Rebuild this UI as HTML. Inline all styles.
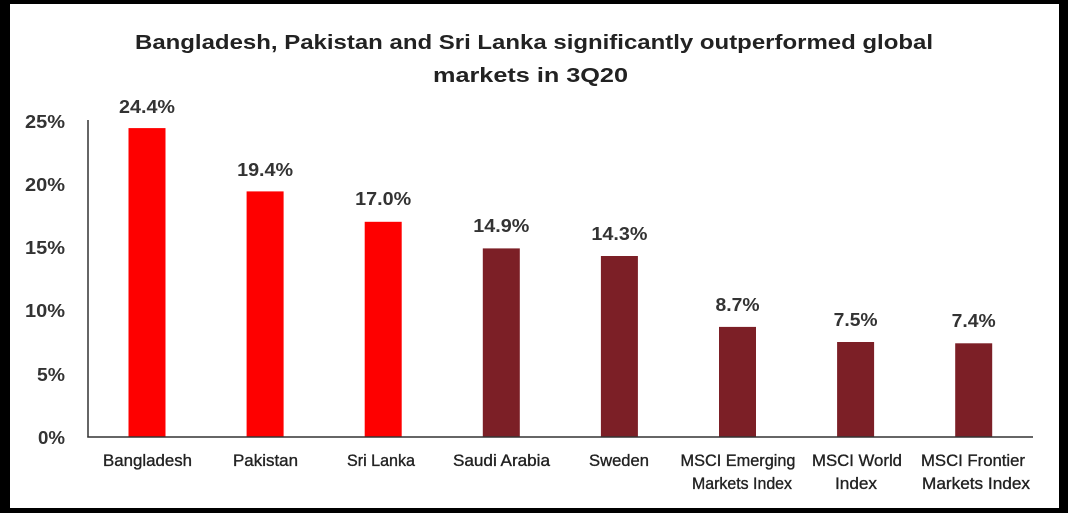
<!DOCTYPE html>
<html>
<head>
<meta charset="utf-8">
<style>
  html,body{margin:0;padding:0;background:#000;}
  body{width:1068px;height:513px;overflow:hidden;}
  svg{display:block;}
  text{font-family:"Liberation Sans", sans-serif;}
</style>
</head>
<body>
<svg width="1068" height="513" viewBox="0 0 1068 513" xmlns="http://www.w3.org/2000/svg">
  <rect x="0" y="0" width="1068" height="513" fill="#000"/>
  <rect x="10" y="4" width="1049" height="504" fill="#fff"/>

  <!-- Title -->
  <text x="135" y="49" font-size="20" font-weight="bold" fill="#222" textLength="798" lengthAdjust="spacingAndGlyphs">Bangladesh, Pakistan and Sri Lanka significantly outperformed global</text>
  <text x="433" y="82" font-size="20" font-weight="bold" fill="#222" textLength="195" lengthAdjust="spacingAndGlyphs">markets in 3Q20</text>

  <!-- Y tick labels -->
  <g font-size="18" font-weight="bold" fill="#333" text-anchor="end">
    <text x="65" y="128" textLength="40" lengthAdjust="spacingAndGlyphs">25%</text>
    <text x="65" y="191" textLength="40" lengthAdjust="spacingAndGlyphs">20%</text>
    <text x="65" y="254" textLength="40" lengthAdjust="spacingAndGlyphs">15%</text>
    <text x="65" y="317" textLength="40" lengthAdjust="spacingAndGlyphs">10%</text>
    <text x="65" y="381" textLength="28" lengthAdjust="spacingAndGlyphs">5%</text>
    <text x="65" y="444" textLength="27" lengthAdjust="spacingAndGlyphs">0%</text>
  </g>

  <!-- Bars -->
  <rect x="128.5" y="128.1" width="37" height="308.9" fill="#fe0000"/>
  <rect x="246.6" y="191.4" width="37" height="245.6" fill="#fe0000"/>
  <rect x="364.7" y="221.8" width="37" height="215.2" fill="#fe0000"/>
  <rect x="482.8" y="248.4" width="37" height="188.6" fill="#7c1f26"/>
  <rect x="600.9" y="256.0" width="37" height="181.0" fill="#7c1f26"/>
  <rect x="719.0" y="326.9" width="37" height="110.1" fill="#7c1f26"/>
  <rect x="837.1" y="342.0" width="37" height="95.0" fill="#7c1f26"/>
  <rect x="955.2" y="343.3" width="37" height="93.7" fill="#7c1f26"/>

  <!-- Axes -->
  <line x1="88" y1="120" x2="88" y2="437.5" stroke="#333" stroke-width="1.5"/>
  <line x1="87.3" y1="437" x2="1033" y2="437" stroke="#333" stroke-width="1.5"/>

  <!-- Data labels -->
  <g font-size="18" font-weight="bold" fill="#333" text-anchor="middle">
    <text x="147" y="113" textLength="56" lengthAdjust="spacingAndGlyphs">24.4%</text>
    <text x="265.1" y="176" textLength="56" lengthAdjust="spacingAndGlyphs">19.4%</text>
    <text x="383.2" y="205" textLength="56" lengthAdjust="spacingAndGlyphs">17.0%</text>
    <text x="501.3" y="232" textLength="56" lengthAdjust="spacingAndGlyphs">14.9%</text>
    <text x="619.4" y="240" textLength="56" lengthAdjust="spacingAndGlyphs">14.3%</text>
    <text x="737.5" y="311" textLength="44" lengthAdjust="spacingAndGlyphs">8.7%</text>
    <text x="855.6" y="326" textLength="44" lengthAdjust="spacingAndGlyphs">7.5%</text>
    <text x="973.7" y="327" textLength="44" lengthAdjust="spacingAndGlyphs">7.4%</text>
  </g>

  <!-- X labels -->
  <g font-size="17" fill="#222" stroke="#222" stroke-width="0.35" text-anchor="middle">
    <text x="147.5" y="466" textLength="89" lengthAdjust="spacingAndGlyphs">Bangladesh</text>
    <text x="265.5" y="466" textLength="65" lengthAdjust="spacingAndGlyphs">Pakistan</text>
    <text x="381" y="466" textLength="68" lengthAdjust="spacingAndGlyphs">Sri Lanka</text>
    <text x="501.5" y="466" textLength="97" lengthAdjust="spacingAndGlyphs">Saudi Arabia</text>
    <text x="619" y="466" textLength="60" lengthAdjust="spacingAndGlyphs">Sweden</text>
    <text x="738" y="466" textLength="115" lengthAdjust="spacingAndGlyphs">MSCI Emerging</text>
    <text x="742" y="489" textLength="100" lengthAdjust="spacingAndGlyphs">Markets Index</text>
    <text x="857" y="466" textLength="90" lengthAdjust="spacingAndGlyphs">MSCI World</text>
    <text x="856" y="489" textLength="42" lengthAdjust="spacingAndGlyphs">Index</text>
    <text x="973" y="466" textLength="104" lengthAdjust="spacingAndGlyphs">MSCI Frontier</text>
    <text x="976" y="489" textLength="108" lengthAdjust="spacingAndGlyphs">Markets Index</text>
  </g>
</svg>
</body>
</html>
